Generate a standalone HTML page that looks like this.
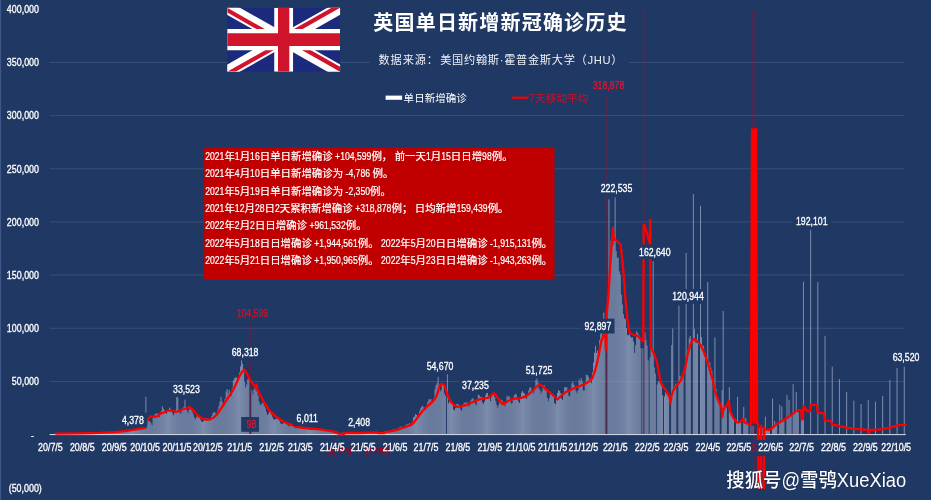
<!DOCTYPE html>
<html lang="zh"><head><meta charset="utf-8"><title>英国单日新增新冠确诊历史</title>
<style>html,body{margin:0;padding:0;background:#203864;overflow:hidden}body>svg{display:block;filter:blur(0.45px)}text{font-family:"Liberation Sans","Noto Sans CJK SC",sans-serif}</style></head><body>
<svg width="931" height="500" viewBox="0 0 931 500">
<rect width="931" height="500" fill="#203864"/>
<rect x="0" y="0" width="1.1" height="500" fill="#3f5889"/>
<g stroke="#8fa3c8" stroke-opacity="0.22" stroke-width="1">
<line x1="49.7" y1="381.43" x2="904.2" y2="381.43"/>
<line x1="49.7" y1="328.26" x2="904.2" y2="328.26"/>
<line x1="49.7" y1="275.09" x2="904.2" y2="275.09"/>
<line x1="49.7" y1="221.92" x2="904.2" y2="221.92"/>
<line x1="49.7" y1="168.75" x2="904.2" y2="168.75"/>
<line x1="49.7" y1="115.58" x2="904.2" y2="115.58"/>
<line x1="49.7" y1="62.41" x2="904.2" y2="62.41"/>
</g>
<path d="M50.20 434.60V434.04M51.23 434.60V434.08M52.26 434.60V433.99M53.29 434.60V433.95M54.32 434.60V433.90M55.34 434.60V433.93M56.37 434.60V433.60M57.40 434.60V433.65M58.43 434.60V433.73M59.46 434.60V433.59M60.49 434.60V433.48M61.52 434.60V433.43M62.55 434.60V433.41M63.58 434.60V433.43M64.61 434.60V433.61M65.64 434.60V433.64M66.66 434.60V433.48M67.69 434.60V433.28M68.72 434.60V433.27M69.75 434.60V433.32M70.78 434.60V433.32M71.81 434.60V433.54M72.84 434.60V433.50M73.87 434.60V433.44M74.90 434.60V433.28M75.92 434.60V433.24M76.95 434.60V433.23M77.98 434.60V433.24M79.01 434.60V433.43M80.04 434.60V433.43M81.07 434.60V433.28M82.10 434.60V433.12M83.13 434.60V433.03M84.16 434.60V433.12M85.19 434.60V433.20M86.22 434.60V433.30M87.24 434.60V433.30M88.27 434.60V433.17M89.30 434.60V432.97M90.33 434.60V432.86M91.36 434.60V432.91M92.39 434.60V433.02M93.42 434.60V433.09M94.45 434.60V433.17M95.48 434.60V433.07M96.50 434.60V432.78M97.53 434.60V432.69M98.56 434.60V432.62M99.59 434.60V432.71M100.62 434.60V432.93M101.65 434.60V432.86M102.68 434.60V432.79M103.71 434.60V432.41M104.74 434.60V432.21M105.77 434.60V432.36M106.80 434.60V432.38M107.82 434.60V432.64M108.85 434.60V432.58M109.88 434.60V432.29M110.91 434.60V431.96M111.94 434.60V431.74M112.97 434.60V431.86M114.00 434.60V431.84M115.03 434.60V432.05M116.06 434.60V432.10M117.08 434.60V431.78M118.11 434.60V431.15M119.14 434.60V430.90M120.17 434.60V431.05M121.20 434.60V431.11M122.23 434.60V431.55M123.26 434.60V431.39M124.29 434.60V430.92M125.32 434.60V430.10M126.35 434.60V429.87M127.38 434.60V430.08M128.40 434.60V430.18M129.43 434.60V430.36M130.46 434.60V430.73M131.49 434.60V429.98M132.52 434.60V429.34M133.55 434.60V429.07M134.58 434.60V429.10M135.61 434.60V428.93M136.64 434.60V429.69M137.66 434.60V429.75M138.69 434.60V428.96M139.72 434.60V427.63M140.75 434.60V427.75M141.78 434.60V427.46M142.81 434.60V424.62M143.84 434.60V421.82M144.87 434.60V421.40M145.90 434.60V396.80M146.93 434.60V421.38M147.95 434.60V420.24M148.98 434.60V420.98M150.01 434.60V421.36M151.04 434.60V423.17M152.07 434.60V425.31M153.10 434.60V418.25M154.13 434.60V415.66M155.16 434.60V414.19M156.19 434.60V413.30M157.22 434.60V413.60M158.25 434.60V415.93M159.27 434.60V417.13M160.30 434.60V414.08M161.33 434.60V410.96M162.36 434.60V406.30M163.39 434.60V408.63M164.42 434.60V410.49M165.45 434.60V412.89M166.48 434.60V413.88M167.51 434.60V411.70M168.53 434.60V410.27M169.56 434.60V407.55M170.59 434.60V408.88M171.62 434.60V410.69M172.65 434.60V413.55M173.68 434.60V415.40M174.71 434.60V413.03M175.74 434.60V410.41M176.77 434.60V396.80M177.80 434.60V397.50M178.82 434.60V410.86M179.85 434.60V412.58M180.88 434.60V413.65M181.91 434.60V410.73M182.94 434.60V407.91M183.97 434.60V406.74M185.00 434.60V399.60M186.03 434.60V408.07M187.06 434.60V410.66M188.09 434.60V413.30M189.12 434.60V409.86M190.14 434.60V408.30M191.17 434.60V409.95M192.20 434.60V411.79M193.23 434.60V414.41M194.26 434.60V417.43M195.29 434.60V419.41M196.32 434.60V417.29M197.35 434.60V415.49M198.38 434.60V416.49M199.40 434.60V417.44M200.43 434.60V419.64M201.46 434.60V421.38M202.49 434.60V421.97M203.52 434.60V420.93M204.55 434.60V418.12M205.58 434.60V418.53M206.61 434.60V418.97M207.64 434.60V418.18M208.67 434.60V420.02M209.69 434.60V420.99M210.72 434.60V418.38M211.75 434.60V416.12M212.78 434.60V413.57M213.81 434.60V412.17M214.84 434.60V412.33M215.87 434.60V413.46M216.90 434.60V414.21M217.93 434.60V410.37M218.96 434.60V405.98M219.99 434.60V401.60M221.01 434.60V396.80M222.04 434.60V401.39M223.07 434.60V404.64M224.10 434.60V405.32M225.13 434.60V398.77M226.16 434.60V391.41M227.19 434.60V389.02M228.22 434.60V393.40M229.25 434.60V389.83M230.27 434.60V392.98M231.30 434.60V395.73M232.33 434.60V388.26M233.36 434.60V380.38M234.39 434.60V378.32M235.42 434.60V377.45M236.45 434.60V377.55M237.48 434.60V381.80M238.51 434.60V380.97M239.54 434.60V372.53M240.56 434.60V366.42M241.59 434.60V360.24M242.62 434.60V363.80M243.65 434.60V370.51M244.68 434.60V382.09M245.71 434.60V387.51M246.74 434.60V384.50M247.77 434.60V379.22M248.80 434.60V378.67M249.83 434.60V434.50M251.88 434.60V390.23M252.91 434.60V394.55M253.94 434.60V389.56M254.97 434.60V386.12M256.00 434.60V390.52M257.03 434.60V391.52M258.06 434.60V395.47M259.09 434.60V401.55M260.12 434.60V405.10M261.14 434.60V404.59M262.17 434.60V403.32M263.20 434.60V402.16M264.23 434.60V406.07M265.26 434.60V408.25M266.29 434.60V411.77M267.32 434.60V415.09M268.35 434.60V413.97M269.38 434.60V410.97M270.41 434.60V411.99M271.44 434.60V414.72M272.46 434.60V416.84M273.49 434.60V419.24M274.52 434.60V419.63M275.55 434.60V418.94M276.58 434.60V418.68M277.61 434.60V417.84M278.64 434.60V418.81M279.67 434.60V420.98M280.70 434.60V423.30M281.72 434.60V424.11M282.75 434.60V423.84M283.78 434.60V422.90M284.81 434.60V421.82M285.84 434.60V422.98M286.87 434.60V424.26M287.90 434.60V425.24M288.93 434.60V426.48M289.96 434.60V425.57M290.99 434.60V424.75M292.01 434.60V425.45M293.04 434.60V425.98M294.07 434.60V426.81M295.10 434.60V427.90M296.13 434.60V428.31M297.16 434.60V428.11M298.19 434.60V427.20M299.22 434.60V427.32M300.25 434.60V427.06M301.28 434.60V428.03M302.31 434.60V428.72M303.33 434.60V429.07M304.36 434.60V428.38M305.39 434.60V427.96M306.42 434.60V427.55M307.45 434.60V428.12M308.48 434.60V428.61M309.51 434.60V429.30M310.54 434.60V429.91M311.57 434.60V429.27M312.59 434.60V428.78M313.62 434.60V428.82M314.65 434.60V428.60M315.68 434.60V429.42M316.71 434.60V429.87M317.74 434.60V430.11M318.77 434.60V429.88M319.80 434.60V429.53M320.83 434.60V429.48M321.86 434.60V429.78M322.88 434.60V430.17M323.91 434.60V431.04M324.94 434.60V431.24M325.97 434.60V431.16M327.00 434.60V430.87M328.03 434.60V430.78M329.06 434.60V431.20M330.09 434.60V431.62M331.12 434.60V432.05M332.15 434.60V432.34M333.17 434.60V432.39M334.20 434.60V432.22M335.23 434.60V433.63M336.26 434.60V433.69M338.32 434.60V433.89M339.35 434.60V433.95M340.38 434.60V433.92M341.41 434.60V433.69M342.44 434.60V432.70M343.46 434.60V432.72M344.49 434.60V432.84M345.52 434.60V433.13M346.55 434.60V433.17M347.58 434.60V432.97M348.61 434.60V432.77M349.64 434.60V432.85M350.67 434.60V432.91M351.70 434.60V432.98M352.73 434.60V433.20M353.75 434.60V433.26M354.78 434.60V433.15M355.81 434.60V432.86M356.84 434.60V432.77M357.87 434.60V432.75M358.90 434.60V432.96M359.93 434.60V433.00M360.96 434.60V433.07M361.99 434.60V432.96M363.02 434.60V432.54M364.04 434.60V432.42M365.07 434.60V432.59M366.10 434.60V432.54M367.13 434.60V432.82M368.16 434.60V432.89M369.19 434.60V432.60M370.22 434.60V432.34M371.25 434.60V432.41M372.28 434.60V432.40M373.31 434.60V432.51M374.33 434.60V432.91M375.36 434.60V433.43M376.39 434.60V433.27M378.45 434.60V433.02M379.48 434.60V432.94M380.51 434.60V433.03M381.54 434.60V433.01M382.57 434.60V432.46M383.60 434.60V432.03M384.62 434.60V431.57M385.65 434.60V431.48M386.68 434.60V431.12M387.71 434.60V431.27M388.74 434.60V431.42M389.77 434.60V431.63M390.80 434.60V430.99M391.83 434.60V430.30M392.86 434.60V429.51M393.89 434.60V429.59M394.91 434.60V429.65M395.94 434.60V429.70M396.97 434.60V429.43M398.00 434.60V428.60M399.03 434.60V427.77M400.06 434.60V427.27M401.09 434.60V426.49M402.12 434.60V426.90M403.15 434.60V427.23M404.18 434.60V427.76M405.20 434.60V426.74M406.23 434.60V424.67M407.26 434.60V424.26M408.29 434.60V424.49M409.32 434.60V423.30M410.35 434.60V423.86M411.38 434.60V423.29M412.41 434.60V421.74M413.44 434.60V417.28M414.47 434.60V416.70M415.49 434.60V414.20M416.52 434.60V414.91M417.55 434.60V415.88M418.58 434.60V415.38M419.61 434.60V411.24M420.64 434.60V408.57M421.67 434.60V407.15M422.70 434.60V405.72M423.73 434.60V407.41M424.76 434.60V409.69M425.78 434.60V410.24M426.81 434.60V407.20M427.84 434.60V401.96M428.87 434.60V399.52M429.90 434.60V399.38M430.93 434.60V398.95M431.96 434.60V402.84M432.99 434.60V402.55M434.02 434.60V397.92M435.05 434.60V389.15M436.07 434.60V385.13M437.10 434.60V383.09M438.13 434.60V376.80M439.16 434.60V387.82M440.19 434.60V391.53M441.22 434.60V389.69M442.25 434.60V384.94M443.28 434.60V384.86M444.31 434.60V393.36M445.34 434.60V395.72M447.39 434.60V374.30M448.42 434.60V403.41M449.45 434.60V401.60M450.48 434.60V401.31M451.51 434.60V402.61M452.54 434.60V404.41M453.57 434.60V409.57M454.60 434.60V410.27M455.63 434.60V407.87M456.65 434.60V404.20M457.68 434.60V403.88M458.71 434.60V404.71M459.74 434.60V407.23M460.77 434.60V409.52M461.80 434.60V410.81M462.83 434.60V406.16M463.86 434.60V403.43M464.89 434.60V402.37M465.92 434.60V403.04M466.94 434.60V402.30M467.97 434.60V405.03M469.00 434.60V406.81M470.03 434.60V404.62M471.06 434.60V400.13M472.09 434.60V398.48M473.12 434.60V398.37M474.15 434.60V401.34M475.18 434.60V403.54M476.21 434.60V405.59M477.23 434.60V399.96M478.26 434.60V394.85M479.29 434.60V395.16M480.32 434.60V397.16M481.35 434.60V396.79M482.38 434.60V402.52M483.41 434.60V403.98M484.44 434.60V401.77M485.47 434.60V395.51M486.50 434.60V393.10M487.52 434.60V393.10M488.55 434.60V396.08M489.58 434.60V398.15M490.61 434.60V401.27M491.64 434.60V397.24M492.67 434.60V393.72M493.70 434.60V392.84M494.73 434.60V397.00M495.76 434.60V401.00M496.79 434.60V404.83M497.81 434.60V407.75M498.84 434.60V404.88M499.87 434.60V402.04M500.90 434.60V399.65M501.93 434.60V400.20M502.96 434.60V401.59M503.99 434.60V403.85M505.02 434.60V406.44M506.05 434.60V403.12M507.08 434.60V395.72M508.10 434.60V397.40M509.13 434.60V395.98M510.16 434.60V398.53M511.19 434.60V403.83M512.22 434.60V402.91M513.25 434.60V399.25M514.28 434.60V395.43M515.31 434.60V393.94M516.34 434.60V394.64M517.37 434.60V399.42M518.39 434.60V401.42M519.42 434.60V403.06M520.45 434.60V398.14M521.48 434.60V392.74M522.51 434.60V390.98M523.54 434.60V392.69M524.57 434.60V393.50M525.60 434.60V397.57M526.63 434.60V398.84M527.66 434.60V396.06M528.68 434.60V390.69M529.71 434.60V387.91M530.74 434.60V387.05M531.77 434.60V390.35M532.80 434.60V390.80M533.83 434.60V393.46M534.86 434.60V387.81M535.89 434.60V380.24M536.92 434.60V378.71M537.95 434.60V381.94M538.98 434.60V388.43M540.00 434.60V390.38M541.03 434.60V393.80M542.06 434.60V391.33M543.09 434.60V386.04M544.12 434.60V384.95M545.15 434.60V390.02M546.18 434.60V390.93M547.21 434.60V397.95M548.24 434.60V401.37M549.26 434.60V397.97M550.29 434.60V391.95M551.32 434.60V394.01M552.35 434.60V393.97M553.38 434.60V396.74M554.41 434.60V402.94M555.44 434.60V404.26M556.47 434.60V399.67M557.50 434.60V392.85M558.53 434.60V390.12M559.55 434.60V390.94M560.58 434.60V392.99M561.61 434.60V398.64M562.64 434.60V399.82M563.67 434.60V395.25M564.70 434.60V387.08M565.73 434.60V387.37M566.76 434.60V386.95M567.79 434.60V392.02M568.82 434.60V395.62M569.85 434.60V396.53M570.87 434.60V390.24M571.90 434.60V383.42M572.93 434.60V381.59M573.96 434.60V384.65M574.99 434.60V386.52M576.02 434.60V391.26M577.05 434.60V393.38M578.08 434.60V390.21M579.11 434.60V379.50M580.13 434.60V381.27M581.16 434.60V378.06M582.19 434.60V381.50M583.22 434.60V390.56M584.25 434.60V390.53M585.28 434.60V383.47M586.31 434.60V374.71M587.34 434.60V375.02M588.37 434.60V376.69M589.40 434.60V379.54M590.42 434.60V378.64M591.45 434.60V383.14M592.48 434.60V372.21M593.51 434.60V362.52M594.54 434.60V352.84M595.57 434.60V345.86M596.60 434.60V353.08M597.63 434.60V350.68M598.66 434.60V354.11M599.69 434.60V339.94M600.72 434.60V326.41M601.74 434.60V326.71M602.77 434.60V339.41M603.80 434.60V312.59M604.83 434.60V320.78M607.92 434.60V295.93M608.95 434.60V199.30M609.98 434.60V264.61M611.00 434.60V240.83M612.03 434.60V236.85M613.06 434.60V245.62M614.09 434.60V240.89M615.12 434.60V197.40M616.15 434.60V251.11M617.18 434.60V257.82M618.21 434.60V257.71M619.24 434.60V271.38M620.27 434.60V274.94M621.29 434.60V294.60M622.32 434.60V304.46M623.35 434.60V314.24M624.38 434.60V318.41M625.41 434.60V319.26M626.44 434.60V328.07M627.47 434.60V334.95M628.50 434.60V335.33M629.53 434.60V333.96M630.56 434.60V336.66M631.59 434.60V337.57M632.61 434.60V337.43M633.64 434.60V341.62M634.67 434.60V353.02M635.70 434.60V345.18M636.73 434.60V331.36M637.76 434.60V332.96M638.79 434.60V334.95M639.82 434.60V336.96M640.85 434.60V348.10M642.90 434.60V348.16M644.96 434.60V332.41M645.99 434.60V339.88M647.02 434.60V345.49M648.05 434.60V360.43M650.11 434.60V357.54M651.14 434.60V346.84M652.16 434.60V348.45M653.19 434.60V261.20M654.22 434.60V367.42M655.25 434.60V373.61M657.31 434.60V384.49M658.34 434.60V381.04M659.37 434.60V381.73M660.40 434.60V382.57M661.43 434.60V386.19M662.46 434.60V395.14M664.51 434.60V396.53M665.54 434.60V392.38M666.57 434.60V394.34M667.60 434.60V394.10M668.63 434.60V394.80M671.72 434.60V345.08M672.75 434.60V328.50M673.77 434.60V390.09M674.80 434.60V385.99M675.83 434.60V383.63M678.92 434.60V305.60M679.95 434.60V375.79M680.98 434.60V379.89M682.01 434.60V376.90M683.03 434.60V374.10M686.12 434.60V252.90M687.15 434.60V354.32M688.18 434.60V349.16M689.21 434.60V338.33M690.24 434.60V335.97M693.33 434.60V194.00M694.35 434.60V328.96M695.38 434.60V342.27M696.41 434.60V342.94M697.44 434.60V333.73M700.53 434.60V205.80M701.56 434.60V337.07M702.59 434.60V345.23M703.62 434.60V346.23M704.64 434.60V356.52M707.73 434.60V282.00M708.76 434.60V363.75M709.79 434.60V362.24M710.82 434.60V367.60M711.85 434.60V371.12M714.93 434.60V337.50M715.96 434.60V388.90M716.99 434.60V396.64M718.02 434.60V400.19M719.05 434.60V402.39M722.14 434.60V390.18M723.17 434.60V311.00M724.19 434.60V408.41M725.22 434.60V406.15M726.25 434.60V406.01M729.34 434.60V387.20M730.37 434.60V411.08M731.40 434.60V414.64M732.43 434.60V416.34M733.46 434.60V419.49M736.54 434.60V421.75M737.57 434.60V396.80M738.60 434.60V422.00M739.63 434.60V422.07M740.66 434.60V422.31M743.75 434.60V407.00M744.77 434.60V423.36M745.80 434.60V418.00M746.83 434.60V423.38M747.86 434.60V424.76M750.95 434.60V425.98M753.01 434.60V425.85M758.15 434.60V427.34M759.18 434.60V428.27M760.21 434.60V428.25M761.24 434.60V428.38M762.27 434.60V428.22M765.36 434.60V416.70M766.38 434.60V429.37M767.41 434.60V429.84M768.44 434.60V430.18M769.47 434.60V430.13M772.56 434.60V398.70M773.59 434.60V426.84M774.62 434.60V421.00M775.64 434.60V426.01M776.67 434.60V424.45M779.76 434.60V404.70M780.79 434.60V422.17M781.82 434.60V406.50M782.85 434.60V420.49M783.88 434.60V419.32M786.96 434.60V395.00M787.99 434.60V418.86M789.02 434.60V399.90M790.05 434.60V416.54M791.08 434.60V415.13M793.14 434.60V384.20M794.17 434.60V414.21M795.20 434.60V411.36M796.23 434.60V392.00M797.25 434.60V411.53M798.28 434.60V412.20M801.37 434.60V411.69M802.40 434.60V420.04M803.43 434.60V281.60M810.63 434.60V229.80M817.83 434.60V282.10M825.04 434.60V335.90M832.24 434.60V366.60M839.44 434.60V379.00M846.65 434.60V392.00M853.85 434.60V400.70M861.05 434.60V404.00M868.25 434.60V400.20M875.46 434.60V401.60M882.66 434.60V395.90M889.86 434.60V380.00M897.07 434.60V368.00M904.27 434.60V366.70" stroke="#9fabc6" stroke-width="0.74" fill="none"/>
<path d="M250.85 434.60V323.37M337.29 434.60V439.69M377.42 434.60V437.10M606.89 434.60V95.51M643.93 434.60V9.24M751.98 434.60V9.24M754.04 434.60V489.00M755.06 434.60V9.24M757.12 434.60V489.00" stroke="#d00018" stroke-opacity="0.45" stroke-width="1" fill="none"/>
<line x1="49.7" y1="434.60" x2="905.8" y2="434.60" stroke="#d9dde8" stroke-width="1"/>
<rect x="751.2" y="131" width="5.8" height="293" fill="#e00000"/>
<clipPath id="pc"><rect x="40" y="0" width="880" height="489"/></clipPath><polyline clip-path="url(#pc)" points="56.0,433.6 80.0,433.3 100.0,432.9 115.0,432.1 125.0,431.1 135.0,429.6 140.0,428.9 145.3,427.8 146.5,421.5 150.3,416.4 154.0,416.7 157.0,416.6 160.4,413.7 165.0,412.0 168.8,410.4 173.0,411.0 176.1,412.0 179.0,411.0 182.6,409.5 186.0,408.5 189.0,406.9 191.5,408.5 194.2,411.3 197.0,415.0 200.6,417.7 204.0,419.2 207.1,419.8 210.0,419.2 213.5,417.7 217.0,414.5 220.0,410.0 224.0,404.0 227.7,398.4 231.0,393.5 234.2,388.0 237.0,382.0 239.4,376.5 242.0,372.0 244.6,369.7 246.5,372.8 248.7,377.4 250.2,380.6 252.3,382.6 254.6,386.5 255.9,388.0 256.5,384.3 257.3,389.0 260.6,396.0 261.3,397.3 265.0,404.0 269.0,410.0 274.0,415.0 279.4,419.0 284.0,422.0 289.7,424.2 295.0,426.0 300.0,427.5 310.0,428.5 320.6,429.4 326.0,430.3 331.0,431.2 336.0,432.2 337.3,432.4 337.8,433.7 344.4,433.9 345.2,432.9 359.4,433.0 370.0,432.6 377.2,432.5 378.0,433.2 384.4,433.0 385.2,432.1 392.0,431.2 397.0,429.8 402.3,428.0 407.0,426.3 411.3,424.8 414.0,422.3 416.5,419.0 420.0,414.3 422.9,410.5 427.0,406.5 430.6,403.5 433.5,400.5 435.8,397.6 438.0,392.0 439.3,386.8 440.6,384.5 441.8,383.7 443.1,384.0 444.5,385.5 445.8,389.5 447.4,394.5 449.3,399.0 451.3,402.3 454.5,405.2 457.7,406.9 462.0,406.2 466.8,404.8 472.0,402.5 477.1,400.2 481.0,399.2 484.8,398.4 488.7,397.6 491.5,395.0 493.9,393.2 495.8,394.8 497.7,397.6 500.3,401.5 502.9,404.3 506.5,402.0 510.6,399.7 515.8,398.4 519.0,398.5 522.3,397.6 527.0,395.6 531.3,392.0 535.4,388.0 539.2,384.2 541.8,385.8 544.4,388.0 547.5,390.4 550.7,393.2 554.0,396.2 557.6,399.5 559.7,397.2 562.3,394.5 566.0,392.0 570.0,390.3 575.5,387.4 580.0,386.0 585.8,383.5 589.0,381.5 592.3,378.4 595.0,371.0 597.4,361.6 599.5,351.0 601.3,341.0 603.5,336.0 605.2,333.2 605.9,350.0 606.9,312.0 608.3,298.0 610.0,270.0 611.7,244.0 612.9,228.0 614.0,239.0 617.0,241.0 620.6,244.5 623.0,266.0 625.5,300.0 627.5,320.0 629.7,333.2 633.0,334.5 637.4,335.8 642.6,341.0 643.3,341.5 643.7,224.6 644.4,224.6 649.7,243.0 650.3,219.7 650.7,347.5 651.6,348.7 654.0,354.0 656.8,361.6 658.8,372.0 660.6,382.3 663.0,386.5 665.8,390.0 668.0,394.0 669.7,397.7 670.5,403.0 671.3,397.0 673.5,390.0 677.0,385.5 681.3,379.7 685.0,369.0 687.5,355.0 690.0,346.0 692.0,341.0 693.8,339.2 695.5,339.8 698.0,342.0 700.6,345.0 703.0,350.0 705.8,357.0 708.5,365.0 711.0,374.5 713.0,381.0 714.6,390.0 717.5,398.5 720.0,404.5 721.3,406.5 722.3,417.0 723.2,410.0 724.5,408.0 727.0,405.5 728.9,401.0 730.0,410.5 731.6,414.5 733.5,418.0 736.8,422.3 738.5,422.5 740.9,421.5 743.0,419.0 744.5,422.5 747.0,423.5 750.5,425.0 750.9,424.8 752.0,129.6 753.0,129.6 754.0,420.0 755.1,128.9 756.1,128.9 757.1,421.0 758.2,425.5 759.2,700.0 760.2,700.0 761.2,426.0 762.3,700.0 763.3,700.0 764.3,427.5 765.0,429.3 769.2,430.0 772.2,428.1 777.0,423.9 784.2,419.7 791.5,414.9 795.2,411.8 799.6,410.0 801.2,410.5 801.9,419.5 802.8,419.0 803.6,406.0 805.0,408.0 807.3,411.3 809.8,411.3 810.5,404.9 816.9,404.9 817.7,412.6 823.9,413.3 824.9,420.3 831.2,421.2 832.0,424.7 838.6,425.6 839.3,426.3 845.8,427.3 846.5,427.9 853.0,428.5 853.7,428.9 860.3,429.2 860.9,429.5 867.6,429.8 868.3,433.2 869.2,433.0 869.8,429.8 875.5,429.8 876.2,429.6 882.6,429.3 883.4,428.7 889.8,427.9 890.6,427.4 896.8,425.8 897.6,425.2 904.0,424.9 904.8,424.6 905.6,424.6" fill="none" stroke="#ff0000" stroke-width="2.3" stroke-linejoin="round" stroke-linecap="round"/>
<rect x="20" y="440" width="900" height="16.2" fill="#203864"/>
<text transform="translate(339.0,453.6) scale(0.875,1)" text-anchor="middle" font-size="9" fill="#a80020" stroke="#a80020" stroke-width="0.3">(4,786)</text>
<text transform="translate(377.8,453.6) scale(0.875,1)" text-anchor="middle" font-size="9" fill="#a80020" stroke="#a80020" stroke-width="0.3">(2,350)</text>
<clipPath id="lc"><rect x="750.3" y="440" width="8" height="16"/></clipPath><g clip-path="url(#lc)"><text transform="translate(754.3,452.2) scale(0.875,1)" text-anchor="middle" font-size="10" fill="#c00020" stroke="#c00020" stroke-width="0.3">(1,915,131)</text>
</g><text transform="translate(50.4,451.3) scale(0.875,1)" text-anchor="middle" font-size="10.2" fill="#ffffff" stroke="#ffffff" stroke-width="0.3">20/7/5</text>
<text transform="translate(82.3,451.3) scale(0.875,1)" text-anchor="middle" font-size="10.2" fill="#ffffff" stroke="#ffffff" stroke-width="0.3">20/8/5</text>
<text transform="translate(114.2,451.3) scale(0.875,1)" text-anchor="middle" font-size="10.2" fill="#ffffff" stroke="#ffffff" stroke-width="0.3">20/9/5</text>
<text transform="translate(145.1,451.3) scale(0.875,1)" text-anchor="middle" font-size="10.2" fill="#ffffff" stroke="#ffffff" stroke-width="0.3">20/10/5</text>
<text transform="translate(177.0,451.3) scale(0.875,1)" text-anchor="middle" font-size="10.2" fill="#ffffff" stroke="#ffffff" stroke-width="0.3">20/11/5</text>
<text transform="translate(207.8,451.3) scale(0.875,1)" text-anchor="middle" font-size="10.2" fill="#ffffff" stroke="#ffffff" stroke-width="0.3">20/12/5</text>
<text transform="translate(239.7,451.3) scale(0.875,1)" text-anchor="middle" font-size="10.2" fill="#ffffff" stroke="#ffffff" stroke-width="0.3">21/1/5</text>
<text transform="translate(271.6,451.3) scale(0.875,1)" text-anchor="middle" font-size="10.2" fill="#ffffff" stroke="#ffffff" stroke-width="0.3">21/2/5</text>
<text transform="translate(300.4,451.3) scale(0.875,1)" text-anchor="middle" font-size="10.2" fill="#ffffff" stroke="#ffffff" stroke-width="0.3">21/3/5</text>
<text transform="translate(332.3,451.3) scale(0.875,1)" text-anchor="middle" font-size="10.2" fill="#ffffff" stroke="#ffffff" stroke-width="0.3">21/4/5</text>
<text transform="translate(363.2,451.3) scale(0.875,1)" text-anchor="middle" font-size="10.2" fill="#ffffff" stroke="#ffffff" stroke-width="0.3">21/5/5</text>
<text transform="translate(395.1,451.3) scale(0.875,1)" text-anchor="middle" font-size="10.2" fill="#ffffff" stroke="#ffffff" stroke-width="0.3">21/6/5</text>
<text transform="translate(426.0,451.3) scale(0.875,1)" text-anchor="middle" font-size="10.2" fill="#ffffff" stroke="#ffffff" stroke-width="0.3">21/7/5</text>
<text transform="translate(457.9,451.3) scale(0.875,1)" text-anchor="middle" font-size="10.2" fill="#ffffff" stroke="#ffffff" stroke-width="0.3">21/8/5</text>
<text transform="translate(489.8,451.3) scale(0.875,1)" text-anchor="middle" font-size="10.2" fill="#ffffff" stroke="#ffffff" stroke-width="0.3">21/9/5</text>
<text transform="translate(520.7,451.3) scale(0.875,1)" text-anchor="middle" font-size="10.2" fill="#ffffff" stroke="#ffffff" stroke-width="0.3">21/10/5</text>
<text transform="translate(552.6,451.3) scale(0.875,1)" text-anchor="middle" font-size="10.2" fill="#ffffff" stroke="#ffffff" stroke-width="0.3">21/11/5</text>
<text transform="translate(583.4,451.3) scale(0.875,1)" text-anchor="middle" font-size="10.2" fill="#ffffff" stroke="#ffffff" stroke-width="0.3">21/12/5</text>
<text transform="translate(615.3,451.3) scale(0.875,1)" text-anchor="middle" font-size="10.2" fill="#ffffff" stroke="#ffffff" stroke-width="0.3">22/1/5</text>
<text transform="translate(647.2,451.3) scale(0.875,1)" text-anchor="middle" font-size="10.2" fill="#ffffff" stroke="#ffffff" stroke-width="0.3">22/2/5</text>
<text transform="translate(676.0,451.3) scale(0.875,1)" text-anchor="middle" font-size="10.2" fill="#ffffff" stroke="#ffffff" stroke-width="0.3">22/3/5</text>
<text transform="translate(707.9,451.3) scale(0.875,1)" text-anchor="middle" font-size="10.2" fill="#ffffff" stroke="#ffffff" stroke-width="0.3">22/4/5</text>
<text transform="translate(738.8,451.3) scale(0.875,1)" text-anchor="middle" font-size="10.2" fill="#ffffff" stroke="#ffffff" stroke-width="0.3">22/5/5</text>
<text transform="translate(770.7,451.3) scale(0.875,1)" text-anchor="middle" font-size="10.2" fill="#ffffff" stroke="#ffffff" stroke-width="0.3">22/6/5</text>
<text transform="translate(801.6,451.3) scale(0.875,1)" text-anchor="middle" font-size="10.2" fill="#ffffff" stroke="#ffffff" stroke-width="0.3">22/7/5</text>
<text transform="translate(833.5,451.3) scale(0.875,1)" text-anchor="middle" font-size="10.2" fill="#ffffff" stroke="#ffffff" stroke-width="0.3">22/8/5</text>
<text transform="translate(865.4,451.3) scale(0.875,1)" text-anchor="middle" font-size="10.2" fill="#ffffff" stroke="#ffffff" stroke-width="0.3">22/9/5</text>
<text transform="translate(896.2,451.3) scale(0.875,1)" text-anchor="middle" font-size="10.2" fill="#ffffff" stroke="#ffffff" stroke-width="0.3">22/10/5</text>
<text transform="translate(39,385.1) scale(0.890,1)" text-anchor="end" font-size="10" fill="#fff" stroke="#fff" stroke-width="0.3">50,000</text>
<text transform="translate(39,332.0) scale(0.890,1)" text-anchor="end" font-size="10" fill="#fff" stroke="#fff" stroke-width="0.3">100,000</text>
<text transform="translate(39,278.8) scale(0.890,1)" text-anchor="end" font-size="10" fill="#fff" stroke="#fff" stroke-width="0.3">150,000</text>
<text transform="translate(39,225.6) scale(0.890,1)" text-anchor="end" font-size="10" fill="#fff" stroke="#fff" stroke-width="0.3">200,000</text>
<text transform="translate(39,172.5) scale(0.890,1)" text-anchor="end" font-size="10" fill="#fff" stroke="#fff" stroke-width="0.3">250,000</text>
<text transform="translate(39,119.3) scale(0.890,1)" text-anchor="end" font-size="10" fill="#fff" stroke="#fff" stroke-width="0.3">300,000</text>
<text transform="translate(39,66.1) scale(0.890,1)" text-anchor="end" font-size="10" fill="#fff" stroke="#fff" stroke-width="0.3">350,000</text>
<text transform="translate(39,12.9) scale(0.890,1)" text-anchor="end" font-size="10" fill="#fff" stroke="#fff" stroke-width="0.3">400,000</text>
<text transform="translate(34,439.1) scale(0.890,1)" text-anchor="end" font-size="10" fill="#fff" stroke="#fff" stroke-width="0.3">-</text>
<text transform="translate(41.8,492.2) scale(0.890,1)" text-anchor="end" font-size="10" fill="#fff" stroke="#fff" stroke-width="0.3">(50,000)</text>
<rect x="118.8" y="412.6" width="28.3" height="14.8" fill="#203864"/><text transform="translate(132.9,423.7) scale(0.875,1)" text-anchor="middle" font-size="10" fill="#ffffff" stroke="#ffffff" stroke-width="0.3">4,378</text>
<rect x="169.8" y="381.9" width="33.2" height="14.8" fill="#203864"/><text transform="translate(186.4,393.0) scale(0.875,1)" text-anchor="middle" font-size="10" fill="#ffffff" stroke="#ffffff" stroke-width="0.3">33,523</text>
<rect x="228.5" y="345.0" width="33.2" height="14.8" fill="#203864"/><text transform="translate(245.1,356.1) scale(0.875,1)" text-anchor="middle" font-size="10" fill="#ffffff" stroke="#ffffff" stroke-width="0.3">68,318</text>
<rect x="293.1" y="411.3" width="28.3" height="14.8" fill="#203864"/><text transform="translate(307.2,422.4) scale(0.875,1)" text-anchor="middle" font-size="10" fill="#ffffff" stroke="#ffffff" stroke-width="0.3">6,011</text>
<rect x="345.0" y="414.9" width="28.3" height="14.8" fill="#203864"/><text transform="translate(359.1,426.0) scale(0.875,1)" text-anchor="middle" font-size="10" fill="#ffffff" stroke="#ffffff" stroke-width="0.3">2,408</text>
<rect x="423.4" y="359.2" width="33.2" height="14.8" fill="#203864"/><text transform="translate(440.0,370.3) scale(0.875,1)" text-anchor="middle" font-size="10" fill="#ffffff" stroke="#ffffff" stroke-width="0.3">54,670</text>
<rect x="458.8" y="378.0" width="33.2" height="14.8" fill="#203864"/><text transform="translate(475.4,389.1) scale(0.875,1)" text-anchor="middle" font-size="10" fill="#ffffff" stroke="#ffffff" stroke-width="0.3">37,235</text>
<rect x="522.4" y="362.5" width="33.2" height="14.8" fill="#203864"/><text transform="translate(539.0,373.6) scale(0.875,1)" text-anchor="middle" font-size="10" fill="#ffffff" stroke="#ffffff" stroke-width="0.3">51,725</text>
<rect x="581.3" y="318.7" width="33.2" height="14.8" fill="#203864"/><text transform="translate(597.9,329.8) scale(0.875,1)" text-anchor="middle" font-size="10" fill="#ffffff" stroke="#ffffff" stroke-width="0.3">92,897</text>
<rect x="597.5" y="180.8" width="38.0" height="14.8" fill="#203864"/><text transform="translate(616.5,191.9) scale(0.875,1)" text-anchor="middle" font-size="10" fill="#ffffff" stroke="#ffffff" stroke-width="0.3">222,535</text>
<rect x="635.8" y="244.5" width="38.0" height="14.8" fill="#203864"/><text transform="translate(654.8,255.6) scale(0.875,1)" text-anchor="middle" font-size="10" fill="#ffffff" stroke="#ffffff" stroke-width="0.3">162,640</text>
<rect x="669.0" y="289.1" width="38.0" height="14.8" fill="#203864"/><text transform="translate(688.0,300.2) scale(0.875,1)" text-anchor="middle" font-size="10" fill="#ffffff" stroke="#ffffff" stroke-width="0.3">120,944</text>
<rect x="792.7" y="213.5" width="38.0" height="14.8" fill="#203864"/><text transform="translate(811.7,224.6) scale(0.875,1)" text-anchor="middle" font-size="10" fill="#ffffff" stroke="#ffffff" stroke-width="0.3">192,101</text>
<rect x="889.4" y="349.7" width="33.2" height="14.8" fill="#203864"/><text transform="translate(906.0,360.8) scale(0.875,1)" text-anchor="middle" font-size="10" fill="#ffffff" stroke="#ffffff" stroke-width="0.3">63,520</text>
<rect x="241.2" y="417.0" width="17.8" height="14.8" fill="#203864"/><text transform="translate(251.4,428.1) scale(0.875,1)" text-anchor="middle" font-size="10" fill="#e0142c" stroke="#e0142c" stroke-width="0.3">98</text>
<text transform="translate(252.4,316.8) scale(0.875,1)" text-anchor="middle" font-size="10" fill="#d01228" stroke="#d01228" stroke-width="0.3">104,599</text>
<text transform="translate(608.5,89.3) scale(0.875,1)" text-anchor="middle" font-size="10" fill="#dc1830" stroke="#dc1830" stroke-width="0.3">318,878</text>
<rect x="370" y="48" width="259" height="24" fill="#203864"/>
<text x="373.3" y="29.6" font-size="20" font-weight="700" fill="#fff" textLength="253.2" lengthAdjust="spacing">英国单日新增新冠确诊历史</text>
<text x="378.6" y="64.3" font-size="11.2" fill="#eef0f6" textLength="59.3" lengthAdjust="spacing">数据来源：</text>
<text x="440.2" y="64.3" font-size="11.2" fill="#eef0f6" textLength="182.3" lengthAdjust="spacing">美国约翰斯·霍普金斯大学（JHU）</text>
<rect x="385.6" y="95.6" width="16.5" height="4.2" fill="#fff"/>
<text x="403.6" y="101.6" font-size="10.5" fill="#fff" textLength="63.2" lengthAdjust="spacing">单日新增确诊</text>
<line x1="511.9" y1="97.7" x2="528.4" y2="97.7" stroke="#ff0000" stroke-width="2.2"/>
<text x="529" y="101.6" font-size="10.5" fill="#c8102a" textLength="59.6" lengthAdjust="spacingAndGlyphs">7天移动平均</text>
<svg x="227.2" y="7.7" width="112.9" height="64" viewBox="0 0 60 30" preserveAspectRatio="none"><clipPath id="t"><path d="M30,15 h30 v15 z v15 h-30 z h-30 v-15 z v-15 h30 z"/></clipPath><rect width="60" height="30" fill="#1b2a7c"/><path d="M0,0 L60,30 M60,0 L0,30" stroke="#fff" stroke-width="6"/><path d="M0,0 L60,30 M60,0 L0,30" clip-path="url(#t)" stroke="#cf142b" stroke-width="4"/><path d="M30,0 v30 M0,15 h60" stroke="#fff" stroke-width="10"/><path d="M30,0 v30 M0,15 h60" stroke="#cf142b" stroke-width="6"/></svg>
<rect x="204.1" y="147.2" width="350.4" height="132.6" fill="#c00000"/>
<g fill="#fff" font-size="10.43" stroke="#fff" stroke-width="0.22"><text transform="translate(205.20,160.2) scale(0.829,1)" xml:space="preserve">2021</text><text transform="translate(224.43,160.2) scale(1.000,1)">年</text><text transform="translate(234.86,160.2) scale(0.829,1)" xml:space="preserve">1</text><text transform="translate(239.67,160.2) scale(1.000,1)">月</text><text transform="translate(250.10,160.2) scale(0.829,1)" xml:space="preserve">16</text><text transform="translate(259.71,160.2) scale(1.000,1)">日单日新增确诊</text><text transform="translate(332.72,160.2) scale(0.829,1)" xml:space="preserve"> +104,599</text><text transform="translate(371.42,160.2) scale(1.000,1)">例，</text><text transform="translate(392.28,160.2) scale(0.829,1)" xml:space="preserve"> </text><text transform="translate(394.68,160.2) scale(1.000,1)">前一天</text><text transform="translate(425.97,160.2) scale(0.829,1)" xml:space="preserve">1</text><text transform="translate(430.78,160.2) scale(1.000,1)">月</text><text transform="translate(441.21,160.2) scale(0.829,1)" xml:space="preserve">15</text><text transform="translate(450.82,160.2) scale(1.000,1)">日日增</text><text transform="translate(482.11,160.2) scale(0.829,1)" xml:space="preserve">98</text><text transform="translate(491.73,160.2) scale(1.000,1)">例。</text></g>
<g fill="#fff" font-size="10.43" stroke="#fff" stroke-width="0.22"><text transform="translate(205.20,177.4) scale(0.829,1)" xml:space="preserve">2021</text><text transform="translate(224.43,177.4) scale(1.000,1)">年</text><text transform="translate(234.86,177.4) scale(0.829,1)" xml:space="preserve">4</text><text transform="translate(239.67,177.4) scale(1.000,1)">月</text><text transform="translate(250.10,177.4) scale(0.829,1)" xml:space="preserve">10</text><text transform="translate(259.71,177.4) scale(1.000,1)">日单日新增确诊为</text><text transform="translate(343.15,177.4) scale(0.829,1)" xml:space="preserve"> -4,786 </text><text transform="translate(372.47,177.4) scale(1.000,1)">例。</text></g>
<g fill="#fff" font-size="10.43" stroke="#fff" stroke-width="0.22"><text transform="translate(205.20,194.7) scale(0.829,1)" xml:space="preserve">2021</text><text transform="translate(224.43,194.7) scale(1.000,1)">年</text><text transform="translate(234.86,194.7) scale(0.829,1)" xml:space="preserve">5</text><text transform="translate(239.67,194.7) scale(1.000,1)">月</text><text transform="translate(250.10,194.7) scale(0.829,1)" xml:space="preserve">19</text><text transform="translate(259.71,194.7) scale(1.000,1)">日单日新增确诊为</text><text transform="translate(343.15,194.7) scale(0.829,1)" xml:space="preserve"> -2,350</text><text transform="translate(370.07,194.7) scale(1.000,1)">例。</text></g>
<g fill="#fff" font-size="10.43" stroke="#fff" stroke-width="0.22"><text transform="translate(205.20,211.9) scale(0.829,1)" xml:space="preserve">2021</text><text transform="translate(224.43,211.9) scale(1.000,1)">年</text><text transform="translate(234.86,211.9) scale(0.829,1)" xml:space="preserve">12</text><text transform="translate(244.47,211.9) scale(1.000,1)">月</text><text transform="translate(254.90,211.9) scale(0.829,1)" xml:space="preserve">28</text><text transform="translate(264.52,211.9) scale(1.000,1)">日</text><text transform="translate(274.95,211.9) scale(0.829,1)" xml:space="preserve">2</text><text transform="translate(279.76,211.9) scale(1.000,1)">天累积新增确诊</text><text transform="translate(352.77,211.9) scale(0.829,1)" xml:space="preserve"> +318,878</text><text transform="translate(391.47,211.9) scale(1.000,1)">例；</text><text transform="translate(412.33,211.9) scale(0.829,1)" xml:space="preserve"> </text><text transform="translate(414.73,211.9) scale(1.000,1)">日均新增</text><text transform="translate(456.45,211.9) scale(0.829,1)" xml:space="preserve">159,439</text><text transform="translate(487.69,211.9) scale(1.000,1)">例。</text></g>
<g fill="#fff" font-size="10.43" stroke="#fff" stroke-width="0.22"><text transform="translate(205.20,229.2) scale(0.829,1)" xml:space="preserve">2022</text><text transform="translate(224.43,229.2) scale(1.000,1)">年</text><text transform="translate(234.86,229.2) scale(0.829,1)" xml:space="preserve">2</text><text transform="translate(239.67,229.2) scale(1.000,1)">月</text><text transform="translate(250.10,229.2) scale(0.829,1)" xml:space="preserve">2</text><text transform="translate(254.90,229.2) scale(1.000,1)">日日增确诊</text><text transform="translate(307.05,229.2) scale(0.829,1)" xml:space="preserve"> +961,532</text><text transform="translate(345.75,229.2) scale(1.000,1)">例。</text></g>
<g fill="#fff" font-size="10.43" stroke="#fff" stroke-width="0.22"><text transform="translate(205.20,246.5) scale(0.829,1)" xml:space="preserve">2022</text><text transform="translate(224.43,246.5) scale(1.000,1)">年</text><text transform="translate(234.86,246.5) scale(0.829,1)" xml:space="preserve">5</text><text transform="translate(239.67,246.5) scale(1.000,1)">月</text><text transform="translate(250.10,246.5) scale(0.829,1)" xml:space="preserve">18</text><text transform="translate(259.71,246.5) scale(1.000,1)">日日增确诊</text><text transform="translate(311.86,246.5) scale(0.829,1)" xml:space="preserve"> +1,944,561</text><text transform="translate(357.77,246.5) scale(1.000,1)">例。</text><text transform="translate(378.63,246.5) scale(0.829,1)" xml:space="preserve"> 2022</text><text transform="translate(400.26,246.5) scale(1.000,1)">年</text><text transform="translate(410.69,246.5) scale(0.829,1)" xml:space="preserve">5</text><text transform="translate(415.50,246.5) scale(1.000,1)">月</text><text transform="translate(425.93,246.5) scale(0.829,1)" xml:space="preserve">20</text><text transform="translate(435.54,246.5) scale(1.000,1)">日日增确诊</text><text transform="translate(487.69,246.5) scale(0.829,1)" xml:space="preserve"> -1,915,131</text><text transform="translate(531.43,246.5) scale(1.000,1)">例。</text></g>
<g fill="#fff" font-size="10.43" stroke="#fff" stroke-width="0.22"><text transform="translate(205.20,263.7) scale(0.829,1)" xml:space="preserve">2022</text><text transform="translate(224.43,263.7) scale(1.000,1)">年</text><text transform="translate(234.86,263.7) scale(0.829,1)" xml:space="preserve">5</text><text transform="translate(239.67,263.7) scale(1.000,1)">月</text><text transform="translate(250.10,263.7) scale(0.829,1)" xml:space="preserve">21</text><text transform="translate(259.71,263.7) scale(1.000,1)">日日增确诊</text><text transform="translate(311.86,263.7) scale(0.829,1)" xml:space="preserve"> +1,950,965</text><text transform="translate(357.77,263.7) scale(1.000,1)">例。</text><text transform="translate(378.63,263.7) scale(0.829,1)" xml:space="preserve"> 2022</text><text transform="translate(400.26,263.7) scale(1.000,1)">年</text><text transform="translate(410.69,263.7) scale(0.829,1)" xml:space="preserve">5</text><text transform="translate(415.50,263.7) scale(1.000,1)">月</text><text transform="translate(425.93,263.7) scale(0.829,1)" xml:space="preserve">23</text><text transform="translate(435.54,263.7) scale(1.000,1)">日日增确诊</text><text transform="translate(487.69,263.7) scale(0.829,1)" xml:space="preserve"> -1,943,263</text><text transform="translate(531.43,263.7) scale(1.000,1)">例。</text></g>
<text x="726.3" y="487" font-size="19.3" font-weight="500" fill="#fff" stroke="#16284c" stroke-opacity="0.6" stroke-width="1.2" paint-order="stroke" textLength="180" lengthAdjust="spacingAndGlyphs">搜狐号@雪鸮XueXiao</text>
</svg>
</body></html>
